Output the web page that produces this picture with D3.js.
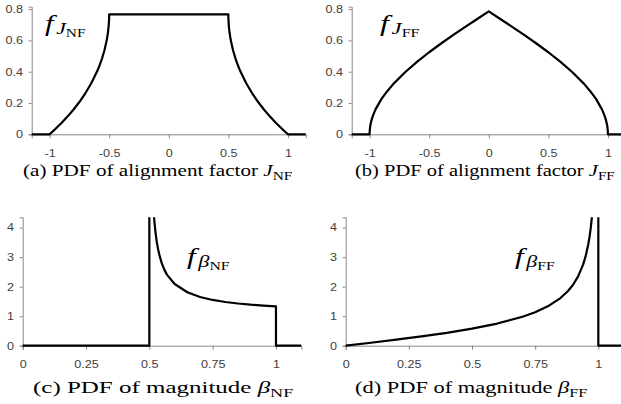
<!DOCTYPE html>
<html>
<head>
<meta charset="utf-8">
<script src="https://cdn.jsdelivr.net/npm/d3@7"></script>
<style>
  body { margin: 0; background: #fff; }
</style>
</head>
<body>
<script>
// ---- data ----
// (a) alignment factor J_NF
var jnfX = [-1.15, -1, -0.95, -0.9, -0.85, -0.8, -0.75, -0.7, -0.65, -0.6, -0.58, -0.56, -0.54, -0.52, -0.51, -0.505, -0.501, -0.5,
            0.5, 0.501, 0.505, 0.51, 0.52, 0.54, 0.56, 0.58, 0.6, 0.65, 0.7, 0.75, 0.8, 0.85, 0.9, 0.95, 1, 1.15];
var jnfY = [0, 0, 0.035, 0.072, 0.113, 0.157, 0.206, 0.262, 0.326, 0.404, 0.441, 0.484, 0.535, 0.602, 0.650, 0.684, 0.729, 0.766,
            0.766, 0.729, 0.684, 0.650, 0.602, 0.535, 0.484, 0.441, 0.404, 0.326, 0.262, 0.206, 0.157, 0.113, 0.072, 0.035, 0, 0];

// (b) alignment factor J_FF
var jffX = [-1.15, -1, -0.999, -0.995, -0.99, -0.98, -0.97, -0.95, -0.9, -0.85, -0.8, -0.7, -0.6, -0.5, -0.4, -0.3, -0.2, -0.1, 0,
            0.1, 0.2, 0.3, 0.4, 0.5, 0.6, 0.7, 0.8, 0.85, 0.9, 0.95, 0.97, 0.98, 0.99, 0.995, 0.999, 1, 1.15];
var jffY = [0, 0, 0.022, 0.050, 0.071, 0.100, 0.122, 0.159, 0.226, 0.277, 0.322, 0.398, 0.464, 0.524, 0.580, 0.633, 0.685, 0.735, 0.785,
            0.735, 0.685, 0.633, 0.580, 0.524, 0.464, 0.398, 0.322, 0.277, 0.226, 0.159, 0.122, 0.100, 0.071, 0.050, 0.022, 0, 0];

// (c) magnitude beta_NF
var bnfX = [0, 0.5, 0.5, 0.51, 0.515, 0.52, 0.525, 0.53, 0.535, 0.54, 0.55, 0.56, 0.57, 0.6, 0.65, 0.7, 0.75, 0.8, 0.85, 0.9, 0.95, 1, 1, 1.1];
var bnfY = [0, 0, 6, 5.86, 4.82, 4.20, 3.79, 3.48, 3.25, 3.06, 2.77, 2.56, 2.40, 2.09, 1.81, 1.65, 1.55, 1.48, 1.43, 1.39, 1.36, 1.33, 0, 0];

// (d) magnitude beta_FF
var bffX = [0, 0.1, 0.2, 0.3, 0.4, 0.5, 0.6, 0.7, 0.75, 0.8, 0.85, 0.88, 0.9, 0.92, 0.94, 0.95, 0.96, 0.965, 0.97, 0.975, 0.98, 0.985, 0.99, 1, 1, 1.1];
var bffY = [0, 0.100, 0.204, 0.315, 0.436, 0.577, 0.750, 0.980, 1.134, 1.333, 1.614, 1.853, 2.065, 2.347, 2.755, 3.042, 3.429, 3.680, 3.990, 4.388, 4.925, 5.708, 7.018, 10, 0, 0];

var jTicks = [-1, -0.5, 0, 0.5, 1];
var jYTicks = [0, 0.2, 0.4, 0.6, 0.8];
var bTicks = [0, 0.25, 0.5, 0.75, 1];
var bYTicks = [0, 1, 2, 3, 4];

var width = 621, height = 404;
var serif = "'Liberation Serif', 'Times New Roman', Times, serif";
var sans = "'Liberation Sans', Arial, Helvetica, sans-serif";

var svg = d3.select("body").append("svg")
  .attr("width", width)
  .attr("height", height);

var defs = svg.append("defs");

// stretch a text horizontally so that it spans [x0, x1]
function fitText(sel, x0, x1, y) {
  var w = sel.node().getBBox().width;
  sel.attr("transform", "translate(" + x0 + "," + y + ") scale(" + ((x1 - x0) / w) + ",1)");
}

function drawPanel(id, p) {
  var x = d3.scaleLinear().domain(p.xDomain).range(p.xRange);
  var y = d3.scaleLinear().domain(p.yDomain).range(p.yRange);

  var g = svg.append("g").attr("class", "panel-" + id);

  var xAxis = g.append("g")
    .attr("transform", "translate(0," + p.yRange[0] + ")")
    .call(d3.axisBottom(x).tickValues(p.xTicks).tickFormat(function(d){ return String(d); })
      .tickSizeOuter(0).tickSize(4).tickPadding(11));

  var yAxis = g.append("g")
    .attr("transform", "translate(" + p.xRange[0] + ",0)")
    .call(d3.axisLeft(y).tickValues(p.yTicks).tickFormat(function(d){ return String(d); })
      .tickSizeOuter(0).tickSize(3).tickPadding(4.2));

  [xAxis, yAxis].forEach(function(a){
    a.attr("font-family", sans).attr("font-size", 10.5);
    a.select(".domain").attr("stroke", "#878787");
    a.selectAll(".tick line").attr("stroke", "#878787");
    a.selectAll(".tick text")
      .attr("fill", "#404040")
      .attr("transform", "scale(1.2,1)");
  });

  defs.append("clipPath").attr("id", "clip-" + id)
    .append("rect")
    .attr("x", p.xRange[0] - 2)
    .attr("y", p.yRange[1])
    .attr("width", p.xRange[1] - p.xRange[0] + 4)
    .attr("height", p.yRange[0] - p.yRange[1] + 3);

  var pts = p.xs.map(function(v, i){ return [v, p.ys[i]]; });
  var line = d3.line()
    .x(function(d){ return x(d[0]); })
    .y(function(d){ return y(d[1]); });

  g.append("path")
    .datum(pts)
    .attr("clip-path", "url(#clip-" + id + ")")
    .attr("fill", "none")
    .attr("stroke", "#000")
    .attr("stroke-width", 2.2)
    .attr("stroke-linejoin", "round")
    .attr("d", line);

  // f label
  var t = g.append("text")
    .style("font-family", serif);
  t.append("tspan").attr("font-style", "italic").attr("font-size", 24).text("f");
  t.append("tspan").attr("font-style", "italic").attr("font-size", 17).attr("dx", 2).attr("dy", 3).text(p.sym);
  t.append("tspan").attr("font-size", 12).attr("dy", 3.5).text(p.sub);
  fitText(t, p.label[0], p.label[1], p.label[2]);

  // caption
  var c = g.append("text")
    .style("font-family", serif)
    .attr("font-size", 16.5);
  c.append("tspan").text(p.capText + " ");
  c.append("tspan").attr("font-style", "italic").text(p.sym);
  c.append("tspan").attr("font-size", 12).attr("dy", 4).text(p.sub);
  fitText(c, p.caption[0], p.caption[1], p.caption[2]);
}

drawPanel("a", {
  xDomain: [-1.15, 1.15], xRange: [31.7, 305.8],
  yDomain: [0, 0.815], yRange: [134.3, 6.7],
  xTicks: jTicks, yTicks: jYTicks, xs: jnfX, ys: jnfY,
  sym: "J", sub: "NF", label: [45, 86, 30.5],
  capText: "(a) PDF of alignment factor", caption: [23, 293, 176]
});

drawPanel("b", {
  xDomain: [-1.15, 1.15], xRange: [351.7, 625.8],
  yDomain: [0, 0.815], yRange: [134.3, 6.7],
  xTicks: jTicks, yTicks: jYTicks, xs: jffX, ys: jffY,
  sym: "J", sub: "FF", label: [380, 420, 30.5],
  capText: "(b) PDF of alignment factor", caption: [355, 615, 176]
});

drawPanel("c", {
  xDomain: [0, 1.1], xRange: [22.7, 301.3],
  yDomain: [0, 4.35], yRange: [345.7, 217.3],
  xTicks: bTicks, yTicks: bYTicks, xs: bnfX, ys: bnfY,
  sym: "\u03B2", sub: "NF", label: [187, 230, 263.5],
  capText: "(c) PDF of magnitude", caption: [33, 294, 393]
});

drawPanel("d", {
  xDomain: [0, 1.1], xRange: [345.7, 623.6],
  yDomain: [0, 4.35], yRange: [345.7, 217.3],
  xTicks: bTicks, yTicks: bYTicks, xs: bffX, ys: bffY,
  sym: "\u03B2", sub: "FF", label: [515, 555, 263.5],
  capText: "(d) PDF of magnitude", caption: [355, 588, 393]
});
</script>
</body>
</html>
